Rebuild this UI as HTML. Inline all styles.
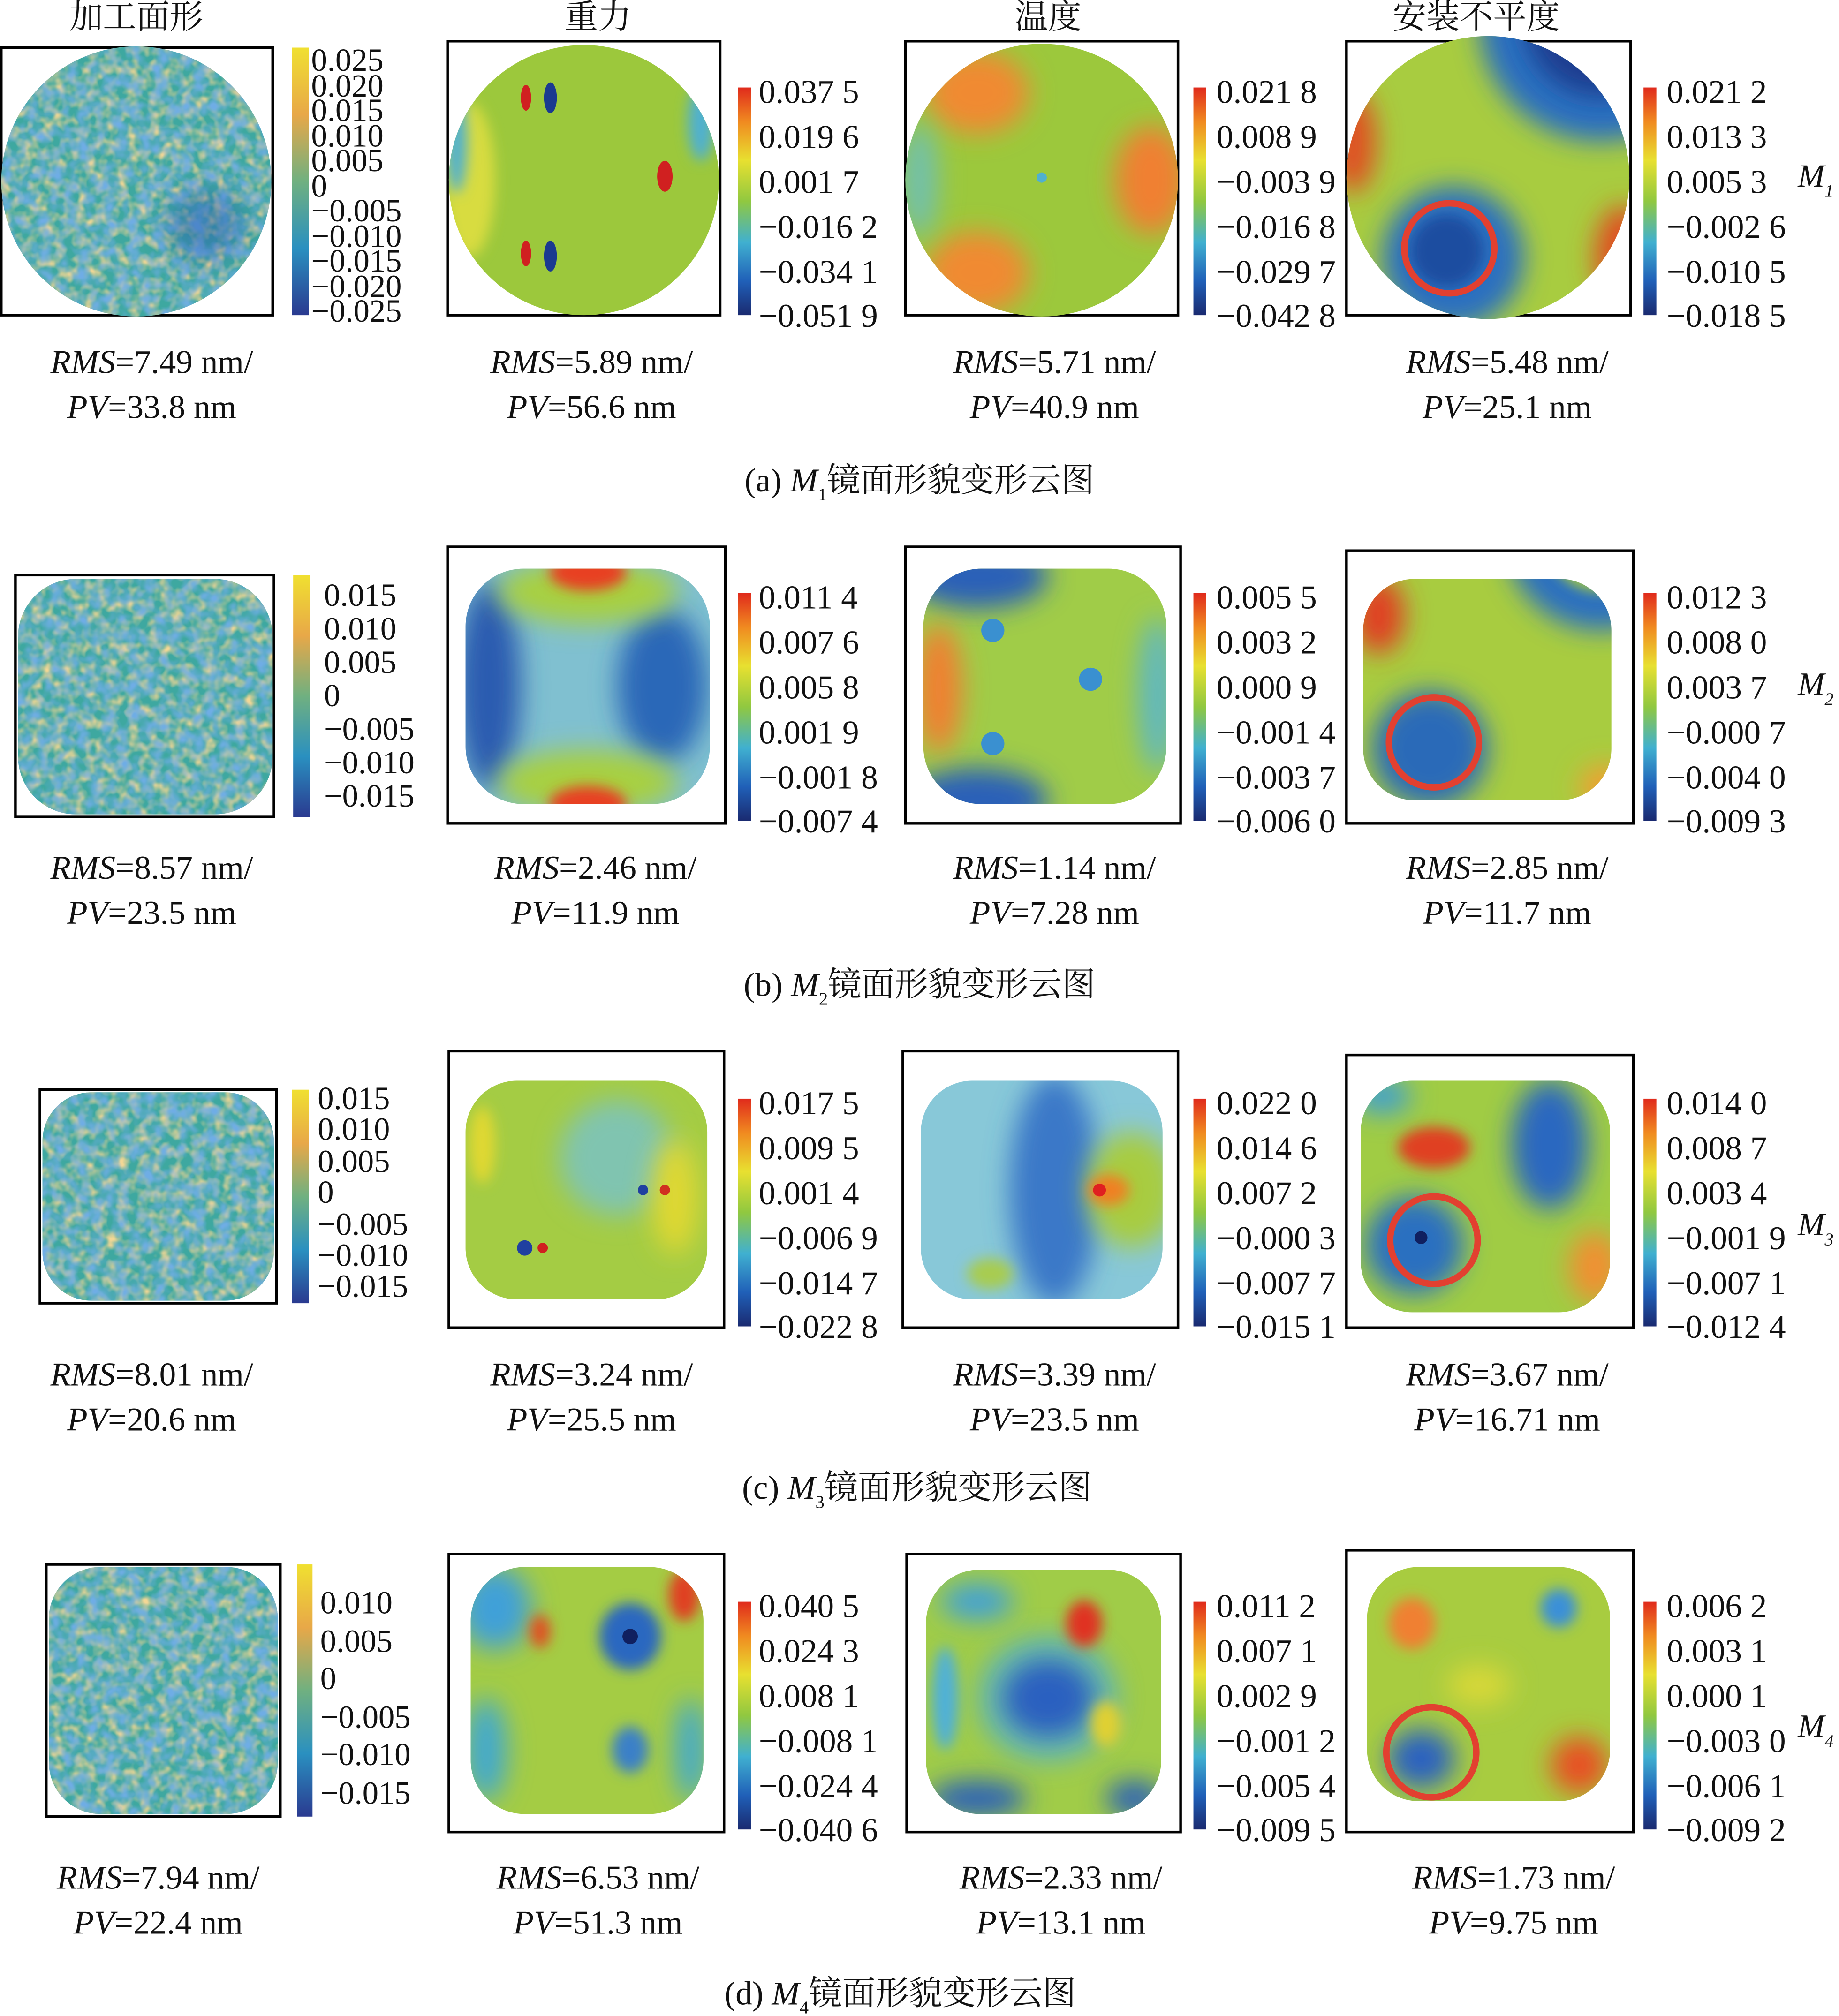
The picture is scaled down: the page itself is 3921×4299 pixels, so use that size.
<!DOCTYPE html>
<html><head><meta charset="utf-8"><style>
html,body{margin:0;padding:0;background:#fff;}
svg{display:block;}
text{font-family:"Liberation Serif","Noto Serif CJK SC",serif;fill:#111;}
</style></head><body>
<svg width="3921" height="4299" viewBox="0 0 1430 1567" preserveAspectRatio="none" xmlns="http://www.w3.org/2000/svg">
<defs>
<linearGradient id="jet" x1="0" y1="0" x2="0" y2="1">
<stop offset="0" stop-color="#e02a1c"/><stop offset="0.15" stop-color="#f08a20"/><stop offset="0.32" stop-color="#e8e030"/><stop offset="0.5" stop-color="#90c840"/><stop offset="0.68" stop-color="#40b0d0"/><stop offset="0.85" stop-color="#2060b8"/><stop offset="1" stop-color="#1a2a70"/></linearGradient>
<linearGradient id="par" x1="0" y1="0" x2="0" y2="1">
<stop offset="0" stop-color="#f0e030"/><stop offset="0.25" stop-color="#e8a848"/><stop offset="0.5" stop-color="#70b080"/><stop offset="0.75" stop-color="#2a90c0"/><stop offset="1" stop-color="#2a3a90"/></linearGradient>
<filter id="noise" x="0" y="0" width="100%" height="100%">
<feTurbulence type="fractalNoise" baseFrequency="0.12" numOctaves="2" seed="3"/>
<feColorMatrix type="matrix" values="0 0 0 0 0.9  0 0 0 0 0.68  0 0 0 0 0.3  0 0 0 2.2 -0.85"/>
</filter>
<filter id="noise2" x="0" y="0" width="100%" height="100%">
<feTurbulence type="fractalNoise" baseFrequency="0.1" numOctaves="2" seed="9"/>
<feColorMatrix type="matrix" values="0 0 0 0 0.16  0 0 0 0 0.42  0 0 0 0 0.78  0 0 0 2.2 -0.8"/>
</filter>
<filter id="bl" x="-100%" y="-100%" width="300%" height="300%"><feGaussianBlur stdDeviation="10"/></filter>
<filter id="bl2" x="-100%" y="-100%" width="300%" height="300%"><feGaussianBlur stdDeviation="5"/></filter>
<clipPath id="ca1"><circle cx="106" cy="141" r="105"/></clipPath>
<clipPath id="ca2"><circle cx="454" cy="140" r="105"/></clipPath>
<clipPath id="ca3"><circle cx="810" cy="140" r="106"/></clipPath>
<clipPath id="ca4"><circle cx="1157" cy="138" r="110"/></clipPath>
<clipPath id="cb1"><rect x="14" y="450" width="198" height="183" rx="45"/></clipPath>
<clipPath id="cb2"><rect x="362" y="442" width="190" height="183" rx="45"/></clipPath>
<clipPath id="cb3"><rect x="718" y="442" width="189" height="183" rx="45"/></clipPath>
<clipPath id="cb4"><rect x="1060" y="450" width="193" height="172" rx="40"/></clipPath>
<clipPath id="cc1"><rect x="33" y="849" width="180" height="162" rx="38"/></clipPath>
<clipPath id="cc2"><rect x="362" y="840" width="188" height="170" rx="40"/></clipPath>
<clipPath id="cc3"><rect x="716" y="840" width="188" height="170" rx="40"/></clipPath>
<clipPath id="cc4"><rect x="1058" y="840" width="194" height="180" rx="40"/></clipPath>
<clipPath id="cd1"><rect x="38" y="1218" width="178" height="192" rx="40"/></clipPath>
<clipPath id="cd2"><rect x="366" y="1218" width="181" height="192" rx="42"/></clipPath>
<clipPath id="cd3"><rect x="720" y="1220" width="183" height="190" rx="42"/></clipPath>
<clipPath id="cd4"><rect x="1063" y="1218" width="189" height="182" rx="40"/></clipPath>
</defs>

<g font-size="26" text-anchor="middle">
<text x="106" y="22">加工面形</text><text x="465" y="22">重力</text><text x="815" y="22">温度</text><text x="1148" y="22">安装不平度</text>
</g>

<!-- ROW A -->
<rect x="1" y="37" width="211" height="208" fill="none" stroke="#000" stroke-width="2"/>
<g clip-path="url(#ca1)"><rect x="0" y="30" width="215" height="220" fill="#3ea8a0"/><rect x="0" y="30" width="215" height="220" filter="url(#noise)"/><rect x="0" y="30" width="215" height="220" filter="url(#noise2)"/><ellipse cx="160" cy="175" rx="30" ry="28" fill="#2a60b0" opacity="0.5" filter="url(#bl)"/></g>
<rect x="227" y="37" width="13" height="208" fill="url(#par)"/>
<g font-size="25"><text x="242" y="55">0.025</text><text x="242" y="75">0.020</text><text x="242" y="94">0.015</text><text x="242" y="114">0.010</text><text x="242" y="133">0.005</text><text x="242" y="153">0</text><text x="242" y="172">−0.005</text><text x="242" y="192">−0.010</text><text x="242" y="211">−0.015</text><text x="242" y="231">−0.020</text><text x="242" y="250">−0.025</text></g>

<rect x="348" y="32" width="212" height="213" fill="none" stroke="#000" stroke-width="2"/>
<g clip-path="url(#ca2)"><rect x="340" y="30" width="230" height="220" fill="#9cc83c"/>
<ellipse cx="365" cy="140" rx="20" ry="60" fill="#d8dc40" filter="url(#bl2)"/><ellipse cx="355" cy="110" rx="8" ry="40" fill="#50b0d0" filter="url(#bl2)"/>
<ellipse cx="409" cy="76" rx="4" ry="10" fill="#d02020"/><ellipse cx="428" cy="76" rx="5" ry="12" fill="#1a3a90"/>
<ellipse cx="409" cy="197" rx="4" ry="10" fill="#d02020"/><ellipse cx="428" cy="199" rx="5" ry="12" fill="#1a3a90"/>
<ellipse cx="517" cy="137" rx="6" ry="12" fill="#d02020"/><ellipse cx="545" cy="95" rx="10" ry="30" fill="#50b0d0" filter="url(#bl2)"/></g>
<rect x="574" y="68" width="10" height="177" fill="url(#jet)"/>
<g font-size="26"><text x="590" y="80">0.037 5</text><text x="590" y="115">0.019 6</text><text x="590" y="150">0.001 7</text><text x="590" y="185">−0.016 2</text><text x="590" y="220">−0.034 1</text><text x="590" y="254">−0.051 9</text></g>

<rect x="704" y="32" width="212" height="213" fill="none" stroke="#000" stroke-width="2"/>
<g clip-path="url(#ca3)"><rect x="700" y="30" width="220" height="220" fill="#9cc83c"/>
<ellipse cx="760" cy="72" rx="40" ry="32" fill="#f08a30" filter="url(#bl)"/><ellipse cx="760" cy="212" rx="40" ry="32" fill="#f08a30" filter="url(#bl)"/><ellipse cx="895" cy="140" rx="28" ry="42" fill="#f08030" filter="url(#bl)"/>
<ellipse cx="715" cy="140" rx="14" ry="45" fill="#70c0b0" filter="url(#bl)"/><circle cx="810" cy="138" r="4" fill="#50b0d0"/></g>
<rect x="928" y="68" width="10" height="177" fill="url(#jet)"/>
<g font-size="26"><text x="946" y="80">0.021 8</text><text x="946" y="115">0.008 9</text><text x="946" y="150">−0.003 9</text><text x="946" y="185">−0.016 8</text><text x="946" y="220">−0.029 7</text><text x="946" y="254">−0.042 8</text></g>

<rect x="1047" y="32" width="221" height="213" fill="none" stroke="#000" stroke-width="2"/>
<g clip-path="url(#ca4)"><rect x="1040" y="25" width="235" height="225" fill="#a8cc40"/>
<circle cx="1245" cy="15" r="95" fill="#2a70c0" filter="url(#bl)"/><circle cx="1245" cy="15" r="60" fill="#1e3e90" filter="url(#bl)"/><circle cx="1130" cy="200" r="55" fill="#2a70c0" filter="url(#bl)"/><circle cx="1125" cy="195" r="28" fill="#1e4ea0" filter="url(#bl2)"/>
<ellipse cx="1052" cy="110" rx="18" ry="40" fill="#e05020" filter="url(#bl)"/><ellipse cx="1262" cy="200" rx="22" ry="40" fill="#e05020" filter="url(#bl)"/></g>
<circle cx="1127" cy="193" r="35" fill="none" stroke="#e24030" stroke-width="5"/>
<rect x="1278" y="68" width="10" height="177" fill="url(#jet)"/>
<g font-size="26"><text x="1296" y="80">0.021 2</text><text x="1296" y="115">0.013 3</text><text x="1296" y="150">0.005 3</text><text x="1296" y="185">−0.002 6</text><text x="1296" y="220">−0.010 5</text><text x="1296" y="254">−0.018 5</text></g>
<text x="1398" y="145" font-size="25" font-style="italic">M<tspan font-size="14" dy="8">1</tspan></text>

<g font-size="26" text-anchor="middle">
<text x="118" y="290"><tspan font-style="italic">RMS</tspan>=7.49 nm/</text><text x="118" y="325"><tspan font-style="italic">PV</tspan>=33.8 nm</text>
<text x="460" y="290"><tspan font-style="italic">RMS</tspan>=5.89 nm/</text><text x="460" y="325"><tspan font-style="italic">PV</tspan>=56.6 nm</text>
<text x="820" y="290"><tspan font-style="italic">RMS</tspan>=5.71 nm/</text><text x="820" y="325"><tspan font-style="italic">PV</tspan>=40.9 nm</text>
<text x="1172" y="290"><tspan font-style="italic">RMS</tspan>=5.48 nm/</text><text x="1172" y="325"><tspan font-style="italic">PV</tspan>=25.1 nm</text>
<text x="715" y="382">(a) <tspan font-style="italic">M</tspan><tspan font-size="14" dy="7">1</tspan><tspan dy="-7">镜面形貌变形云图</tspan></text>
</g>

<!-- ROW B -->
<rect x="12" y="447" width="201" height="188" fill="none" stroke="#000" stroke-width="2"/>
<g clip-path="url(#cb1)"><rect x="10" y="445" width="210" height="195" fill="#3ea8a0"/><rect x="10" y="445" width="210" height="195" filter="url(#noise)"/><rect x="10" y="445" width="210" height="195" filter="url(#noise2)"/></g>
<rect x="228" y="447" width="13" height="188" fill="url(#par)"/>
<g font-size="25"><text x="252" y="471">0.015</text><text x="252" y="497">0.010</text><text x="252" y="523">0.005</text><text x="252" y="549">0</text><text x="252" y="575">−0.005</text><text x="252" y="601">−0.010</text><text x="252" y="627">−0.015</text></g>

<rect x="348" y="425" width="216" height="215" fill="none" stroke="#000" stroke-width="2"/>
<g clip-path="url(#cb2)"><rect x="355" y="435" width="205" height="200" fill="#80c0d0"/>
<ellipse cx="380" cy="533" rx="25" ry="80" fill="#2a5cb0" filter="url(#bl)"/><ellipse cx="515" cy="533" rx="35" ry="60" fill="#2a68b8" filter="url(#bl)"/>
<ellipse cx="457" cy="460" rx="70" ry="25" fill="#a8d040" filter="url(#bl)"/><ellipse cx="457" cy="608" rx="70" ry="25" fill="#a8d040" filter="url(#bl)"/>
<ellipse cx="457" cy="445" rx="30" ry="14" fill="#e84020" filter="url(#bl2)"/><ellipse cx="457" cy="625" rx="30" ry="14" fill="#e84020" filter="url(#bl2)"/></g>
<rect x="574" y="461" width="10" height="177" fill="url(#jet)"/>
<g font-size="26"><text x="590" y="473">0.011 4</text><text x="590" y="508">0.007 6</text><text x="590" y="543">0.005 8</text><text x="590" y="578">0.001 9</text><text x="590" y="613">−0.001 8</text><text x="590" y="647">−0.007 4</text></g>

<rect x="704" y="425" width="214" height="215" fill="none" stroke="#000" stroke-width="2"/>
<g clip-path="url(#cb3)"><rect x="710" y="435" width="205" height="200" fill="#a0cc48"/>
<ellipse cx="760" cy="448" rx="55" ry="25" fill="#2a60b8" filter="url(#bl)"/><ellipse cx="760" cy="622" rx="55" ry="25" fill="#2a60b8" filter="url(#bl)"/>
<ellipse cx="730" cy="535" rx="18" ry="50" fill="#f08030" filter="url(#bl)"/><ellipse cx="900" cy="540" rx="15" ry="60" fill="#60b8c0" filter="url(#bl)"/>
<circle cx="772" cy="490" r="9" fill="#3a90d0"/><circle cx="772" cy="578" r="9" fill="#3a90d0"/><circle cx="848" cy="528" r="9" fill="#3a90d0"/></g>
<rect x="928" y="461" width="10" height="177" fill="url(#jet)"/>
<g font-size="26"><text x="946" y="473">0.005 5</text><text x="946" y="508">0.003 2</text><text x="946" y="543">0.000 9</text><text x="946" y="578">−0.001 4</text><text x="946" y="613">−0.003 7</text><text x="946" y="647">−0.006 0</text></g>

<rect x="1047" y="428" width="223" height="212" fill="none" stroke="#000" stroke-width="2"/>
<g clip-path="url(#cb4)"><rect x="1055" y="445" width="205" height="180" fill="#a8cc40"/>
<circle cx="1245" cy="415" r="75" fill="#2a70c0" filter="url(#bl)"/><circle cx="1245" cy="415" r="45" fill="#a8cc40" filter="url(#bl2)"/>
<circle cx="1112" cy="582" r="45" fill="#2a6ab8" filter="url(#bl)"/><ellipse cx="1072" cy="478" rx="20" ry="30" fill="#e04020" filter="url(#bl)"/><ellipse cx="1248" cy="612" rx="20" ry="18" fill="#f0a030" filter="url(#bl)"/></g>
<circle cx="1115" cy="577" r="35" fill="none" stroke="#e24030" stroke-width="5"/>
<rect x="1278" y="461" width="10" height="177" fill="url(#jet)"/>
<g font-size="26"><text x="1296" y="473">0.012 3</text><text x="1296" y="508">0.008 0</text><text x="1296" y="543">0.003 7</text><text x="1296" y="578">−0.000 7</text><text x="1296" y="613">−0.004 0</text><text x="1296" y="647">−0.009 3</text></g>
<text x="1398" y="540" font-size="25" font-style="italic">M<tspan font-size="14" dy="8">2</tspan></text>

<g font-size="26" text-anchor="middle">
<text x="118" y="683"><tspan font-style="italic">RMS</tspan>=8.57 nm/</text><text x="118" y="718"><tspan font-style="italic">PV</tspan>=23.5 nm</text>
<text x="463" y="683"><tspan font-style="italic">RMS</tspan>=2.46 nm/</text><text x="463" y="718"><tspan font-style="italic">PV</tspan>=11.9 nm</text>
<text x="820" y="683"><tspan font-style="italic">RMS</tspan>=1.14 nm/</text><text x="820" y="718"><tspan font-style="italic">PV</tspan>=7.28 nm</text>
<text x="1172" y="683"><tspan font-style="italic">RMS</tspan>=2.85 nm/</text><text x="1172" y="718"><tspan font-style="italic">PV</tspan>=11.7 nm</text>
<text x="715" y="774">(b) <tspan font-style="italic">M</tspan><tspan font-size="14" dy="7">2</tspan><tspan dy="-7">镜面形貌变形云图</tspan></text>
</g>

<!-- ROW C -->
<rect x="31" y="847" width="184" height="166" fill="none" stroke="#000" stroke-width="2"/>
<g clip-path="url(#cc1)"><rect x="30" y="845" width="190" height="170" fill="#3ea8a0"/><rect x="30" y="845" width="190" height="170" filter="url(#noise)"/><rect x="30" y="845" width="190" height="170" filter="url(#noise2)"/></g>
<rect x="227" y="847" width="13" height="166" fill="url(#par)"/>
<g font-size="25"><text x="247" y="862">0.015</text><text x="247" y="886">0.010</text><text x="247" y="911">0.005</text><text x="247" y="935">0</text><text x="247" y="960">−0.005</text><text x="247" y="984">−0.010</text><text x="247" y="1008">−0.015</text></g>

<rect x="349" y="817" width="214" height="215" fill="none" stroke="#000" stroke-width="2"/>
<g clip-path="url(#cc2)"><rect x="355" y="835" width="200" height="180" fill="#a4cc44"/>
<ellipse cx="480" cy="900" rx="45" ry="45" fill="#80c4b0" filter="url(#bl)"/><ellipse cx="525" cy="930" rx="18" ry="45" fill="#e0d830" filter="url(#bl)"/>
<ellipse cx="375" cy="890" rx="10" ry="30" fill="#e0d830" filter="url(#bl2)"/>
<circle cx="408" cy="970" r="6" fill="#2040a0"/><circle cx="422" cy="970" r="4" fill="#d02020"/><circle cx="500" cy="925" r="4" fill="#2040a0"/><circle cx="517" cy="925" r="4" fill="#d03020"/></g>
<rect x="574" y="854" width="10" height="177" fill="url(#jet)"/>
<g font-size="26"><text x="590" y="866">0.017 5</text><text x="590" y="901">0.009 5</text><text x="590" y="936">0.001 4</text><text x="590" y="971">−0.006 9</text><text x="590" y="1006">−0.014 7</text><text x="590" y="1040">−0.022 8</text></g>

<rect x="702" y="817" width="214" height="215" fill="none" stroke="#000" stroke-width="2"/>
<g clip-path="url(#cc3)"><rect x="710" y="835" width="200" height="180" fill="#88c8d8"/>
<ellipse cx="820" cy="925" rx="35" ry="90" fill="#3a78c8" filter="url(#bl)"/><ellipse cx="880" cy="925" rx="35" ry="45" fill="#a8cc40" filter="url(#bl)"/>
<ellipse cx="862" cy="925" rx="16" ry="12" fill="#f08020" filter="url(#bl2)"/><circle cx="855" cy="925" r="5" fill="#e02020"/>
<ellipse cx="770" cy="990" rx="18" ry="12" fill="#a8cc50" filter="url(#bl2)"/></g>
<rect x="928" y="854" width="10" height="177" fill="url(#jet)"/>
<g font-size="26"><text x="946" y="866">0.022 0</text><text x="946" y="901">0.014 6</text><text x="946" y="936">0.007 2</text><text x="946" y="971">−0.000 3</text><text x="946" y="1006">−0.007 7</text><text x="946" y="1040">−0.015 1</text></g>

<rect x="1047" y="820" width="223" height="212" fill="none" stroke="#000" stroke-width="2"/>
<g clip-path="url(#cc4)"><rect x="1055" y="835" width="200" height="190" fill="#a0cc44"/>
<ellipse cx="1205" cy="890" rx="30" ry="50" fill="#2a68c0" filter="url(#bl)"/><ellipse cx="1100" cy="968" rx="38" ry="38" fill="#2a70c0" filter="url(#bl)"/>
<circle cx="1105" cy="962" r="5" fill="#102060"/>
<ellipse cx="1115" cy="892" rx="28" ry="16" fill="#e04020" filter="url(#bl2)"/><ellipse cx="1240" cy="985" rx="20" ry="28" fill="#f09030" filter="url(#bl)"/>
<ellipse cx="1075" cy="852" rx="22" ry="14" fill="#40a0d0" filter="url(#bl)"/></g>
<circle cx="1115" cy="964" r="34" fill="none" stroke="#e24030" stroke-width="5"/>
<rect x="1278" y="854" width="10" height="177" fill="url(#jet)"/>
<g font-size="26"><text x="1296" y="866">0.014 0</text><text x="1296" y="901">0.008 7</text><text x="1296" y="936">0.003 4</text><text x="1296" y="971">−0.001 9</text><text x="1296" y="1006">−0.007 1</text><text x="1296" y="1040">−0.012 4</text></g>
<text x="1398" y="960" font-size="25" font-style="italic">M<tspan font-size="14" dy="8">3</tspan></text>

<g font-size="26" text-anchor="middle">
<text x="118" y="1077"><tspan font-style="italic">RMS</tspan>=8.01 nm/</text><text x="118" y="1112"><tspan font-style="italic">PV</tspan>=20.6 nm</text>
<text x="460" y="1077"><tspan font-style="italic">RMS</tspan>=3.24 nm/</text><text x="460" y="1112"><tspan font-style="italic">PV</tspan>=25.5 nm</text>
<text x="820" y="1077"><tspan font-style="italic">RMS</tspan>=3.39 nm/</text><text x="820" y="1112"><tspan font-style="italic">PV</tspan>=23.5 nm</text>
<text x="1172" y="1077"><tspan font-style="italic">RMS</tspan>=3.67 nm/</text><text x="1172" y="1112"><tspan font-style="italic">PV</tspan>=16.71 nm</text>
<text x="713" y="1165">(c) <tspan font-style="italic">M</tspan><tspan font-size="14" dy="7">3</tspan><tspan dy="-7">镜面形貌变形云图</tspan></text>
</g>

<!-- ROW D -->
<rect x="36" y="1216" width="182" height="196" fill="none" stroke="#000" stroke-width="2"/>
<g clip-path="url(#cd1)"><rect x="35" y="1215" width="185" height="200" fill="#3ea8a0"/><rect x="35" y="1215" width="185" height="200" filter="url(#noise)"/><rect x="35" y="1215" width="185" height="200" filter="url(#noise2)"/></g>
<rect x="231" y="1216" width="12" height="196" fill="url(#par)"/>
<g font-size="25"><text x="249" y="1254">0.010</text><text x="249" y="1284">0.005</text><text x="249" y="1313">0</text><text x="249" y="1343">−0.005</text><text x="249" y="1372">−0.010</text><text x="249" y="1402">−0.015</text></g>

<rect x="349" y="1208" width="214" height="216" fill="none" stroke="#000" stroke-width="2"/>
<g clip-path="url(#cd2)"><rect x="360" y="1215" width="195" height="200" fill="#a4cc44"/>
<ellipse cx="385" cy="1250" rx="28" ry="32" fill="#40a0d8" filter="url(#bl)"/><ellipse cx="490" cy="1272" rx="24" ry="26" fill="#2a68c0" filter="url(#bl2)"/>
<circle cx="490" cy="1272" r="6" fill="#102060"/><ellipse cx="532" cy="1240" rx="12" ry="20" fill="#e04020" filter="url(#bl2)"/>
<ellipse cx="420" cy="1268" rx="8" ry="13" fill="#e05020" filter="url(#bl2)"/><ellipse cx="490" cy="1360" rx="14" ry="18" fill="#3a80c8" filter="url(#bl2)"/>
<ellipse cx="378" cy="1360" rx="16" ry="40" fill="#40a8d0" filter="url(#bl)"/><ellipse cx="537" cy="1360" rx="12" ry="40" fill="#40a8d0" filter="url(#bl)"/></g>
<rect x="574" y="1245" width="10" height="177" fill="url(#jet)"/>
<g font-size="26"><text x="590" y="1257">0.040 5</text><text x="590" y="1292">0.024 3</text><text x="590" y="1327">0.008 1</text><text x="590" y="1362">−0.008 1</text><text x="590" y="1397">−0.024 4</text><text x="590" y="1431">−0.040 6</text></g>

<rect x="705" y="1208" width="213" height="216" fill="none" stroke="#000" stroke-width="2"/>
<g clip-path="url(#cd3)"><rect x="715" y="1215" width="195" height="200" fill="#a0cc48"/>
<ellipse cx="815" cy="1320" rx="55" ry="50" fill="#50b0d8" opacity="0.7" filter="url(#bl)"/><ellipse cx="815" cy="1320" rx="35" ry="30" fill="#2a60c0" filter="url(#bl)"/>
<ellipse cx="843" cy="1262" rx="14" ry="18" fill="#e03020" filter="url(#bl2)"/><ellipse cx="760" cy="1245" rx="28" ry="14" fill="#40a0d8" filter="url(#bl)"/>
<ellipse cx="760" cy="1398" rx="38" ry="14" fill="#2a60b8" filter="url(#bl)"/><ellipse cx="882" cy="1398" rx="22" ry="14" fill="#2a60b8" filter="url(#bl)"/><ellipse cx="860" cy="1340" rx="12" ry="18" fill="#e0d030" filter="url(#bl2)"/>
<ellipse cx="735" cy="1320" rx="10" ry="40" fill="#50b0d8" filter="url(#bl2)"/></g>
<rect x="928" y="1245" width="10" height="177" fill="url(#jet)"/>
<g font-size="26"><text x="946" y="1257">0.011 2</text><text x="946" y="1292">0.007 1</text><text x="946" y="1327">0.002 9</text><text x="946" y="1362">−0.001 2</text><text x="946" y="1397">−0.005 4</text><text x="946" y="1431">−0.009 5</text></g>

<rect x="1047" y="1205" width="223" height="219" fill="none" stroke="#000" stroke-width="2"/>
<g clip-path="url(#cd4)"><rect x="1060" y="1215" width="195" height="190" fill="#a8cc40"/>
<ellipse cx="1098" cy="1262" rx="18" ry="20" fill="#f08030" filter="url(#bl2)"/><ellipse cx="1212" cy="1250" rx="14" ry="15" fill="#3a90d8" filter="url(#bl2)"/>
<ellipse cx="1228" cy="1372" rx="22" ry="22" fill="#e85020" filter="url(#bl)"/><ellipse cx="1105" cy="1367" rx="26" ry="23" fill="#2a62c0" filter="url(#bl)"/>
<ellipse cx="1150" cy="1310" rx="25" ry="16" fill="#d8d838" filter="url(#bl)"/></g>
<circle cx="1113" cy="1362" r="35" fill="none" stroke="#e24030" stroke-width="5"/>
<rect x="1278" y="1245" width="10" height="177" fill="url(#jet)"/>
<g font-size="26"><text x="1296" y="1257">0.006 2</text><text x="1296" y="1292">0.003 1</text><text x="1296" y="1327">0.000 1</text><text x="1296" y="1362">−0.003 0</text><text x="1296" y="1397">−0.006 1</text><text x="1296" y="1431">−0.009 2</text></g>
<text x="1398" y="1350" font-size="25" font-style="italic">M<tspan font-size="14" dy="8">4</tspan></text>

<g font-size="26" text-anchor="middle">
<text x="123" y="1468"><tspan font-style="italic">RMS</tspan>=7.94 nm/</text><text x="123" y="1503"><tspan font-style="italic">PV</tspan>=22.4 nm</text>
<text x="465" y="1468"><tspan font-style="italic">RMS</tspan>=6.53 nm/</text><text x="465" y="1503"><tspan font-style="italic">PV</tspan>=51.3 nm</text>
<text x="825" y="1468"><tspan font-style="italic">RMS</tspan>=2.33 nm/</text><text x="825" y="1503"><tspan font-style="italic">PV</tspan>=13.1 nm</text>
<text x="1177" y="1468"><tspan font-style="italic">RMS</tspan>=1.73 nm/</text><text x="1177" y="1503"><tspan font-style="italic">PV</tspan>=9.75 nm</text>
<text x="700" y="1558">(d) <tspan font-style="italic">M</tspan><tspan font-size="14" dy="7">4</tspan><tspan dy="-7">镜面形貌变形云图</tspan></text>
</g>
</svg>
</body></html>
